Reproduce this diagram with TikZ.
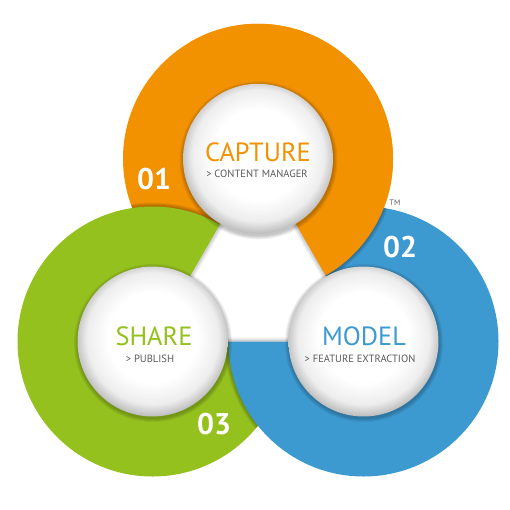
\documentclass[tikz,border=0pt]{standalone}
\usepackage{fontspec}
\setmainfont{PT Sans}
\usetikzlibrary{calc, positioning}

\definecolor{caporange}{HTML}{F39200}
\definecolor{sharegreen}{HTML}{95C11F}
\definecolor{modelblue}{HTML}{3D9AD1}
\definecolor{subgray}{HTML}{5A5A5A}

\pgfdeclareradialshading{bubbleshade}{\pgfpoint{0bp}{2bp}}{color(0bp)=(white); color(15bp)=(white); color(22bp)=(black!7); color(25.5bp)=(black!24); color(27bp)=(black!30); color(50bp)=(black!30)}

\begin{document}
\begin{tikzpicture}[x=0.02cm, y=-0.02cm,
    bubble/.style={circle, minimum size=3cm, inner sep=0pt, shading=bubbleshade},
    title/.style={inner sep=0pt, font=\fontsize{15}{15}\selectfont},
    sub/.style={inner sep=0pt, font=\fontsize{6}{6}\selectfont, text=subgray},
    num/.style={inner sep=0pt, font=\fontsize{17}{17}\selectfont\bfseries, text=white},
    ringshadow/.style={black, opacity=0.07}]
    \useasboundingbox (0,0) rectangle (510,510);

    \coordinate (capc) at (258,158.8);
    \coordinate (shrc) at (152.5,341.5);
    \coordinate (mdlc) at (363.5,341.5);

    % rings: green over orange, blue over green, orange over blue
    \fill[caporange] (capc) circle (135);
    \begin{scope}
        \clip (capc) circle (135);
        \foreach \k in {1,...,4} \fill[ringshadow] (shrc) circle ({135+\k});
    \end{scope}
    \fill[sharegreen] (shrc) circle (135);
    \begin{scope}
        \clip (shrc) circle (135);
        \foreach \k in {1,...,4} \fill[ringshadow] (mdlc) circle ({135+\k});
    \end{scope}
    \fill[modelblue] (mdlc) circle (135);
    \begin{scope}
        \clip ($(capc)!-1!(mdlc)$) -- ($(capc)!2!(mdlc)$) -- (700,524) -- (700,-24) -- cycle;
        \begin{scope}
            \clip (mdlc) circle (135);
            \foreach \k in {1,...,4} \fill[ringshadow] (capc) circle ({135+\k});
        \end{scope}
        \fill[caporange] (capc) circle (135);
    \end{scope}

    % middle triangle
    \fill[white] (shrc) -- (capc) -- (mdlc) -- cycle;
    \begin{scope}
        \clip (shrc) -- (capc) -- (mdlc) -- cycle;
        \foreach \w in {8,5,3} \draw[black, opacity=0.06, line width=\w*0.02cm] (shrc) -- (capc) -- (mdlc) -- cycle;
    \end{scope}

    % bubbles
    \foreach \c in {capc, shrc, mdlc}
        \foreach \k in {1,...,4} \fill[black, opacity=0.06] ($(\c)+(0.5,1.5)$) circle ({75+\k});
    \node[bubble] (capture) at (capc) {};
    \node[bubble] (share) at (shrc) {};
    \node[bubble] (model) at (mdlc) {};

    \node[title, text=caporange] (capturetitle) at (258,152) {CAPTURE};
    \node[sub, below=0.15cm of capturetitle, xshift=-0.02cm] (capturesub) {> CONTENT MANAGER};
    \node[title, text=sharegreen] (sharetitle) at (154,336) {SHARE};
    \node[sub, below=0.17cm of sharetitle, xshift=-0.08cm] (sharesub) {> PUBLISH};
    \node[title, text=modelblue] (modeltitle) at (364,336) {MODEL};
    \node[sub, below=0.17cm of modeltitle, xshift=-0.08cm] (modelsub) {> FEATURE EXTRACTION};

    \node[num] (n01) at (154,179) {01};
    \node[num] (n02) at (400,247) {02};
    \node[num] (n03) at (214,424) {03};
    \node[inner sep=0pt, font=\fontsize{4.5}{4.5}\selectfont, text=subgray] (tm) at (395,203) {TM};
\end{tikzpicture}
\end{document}
